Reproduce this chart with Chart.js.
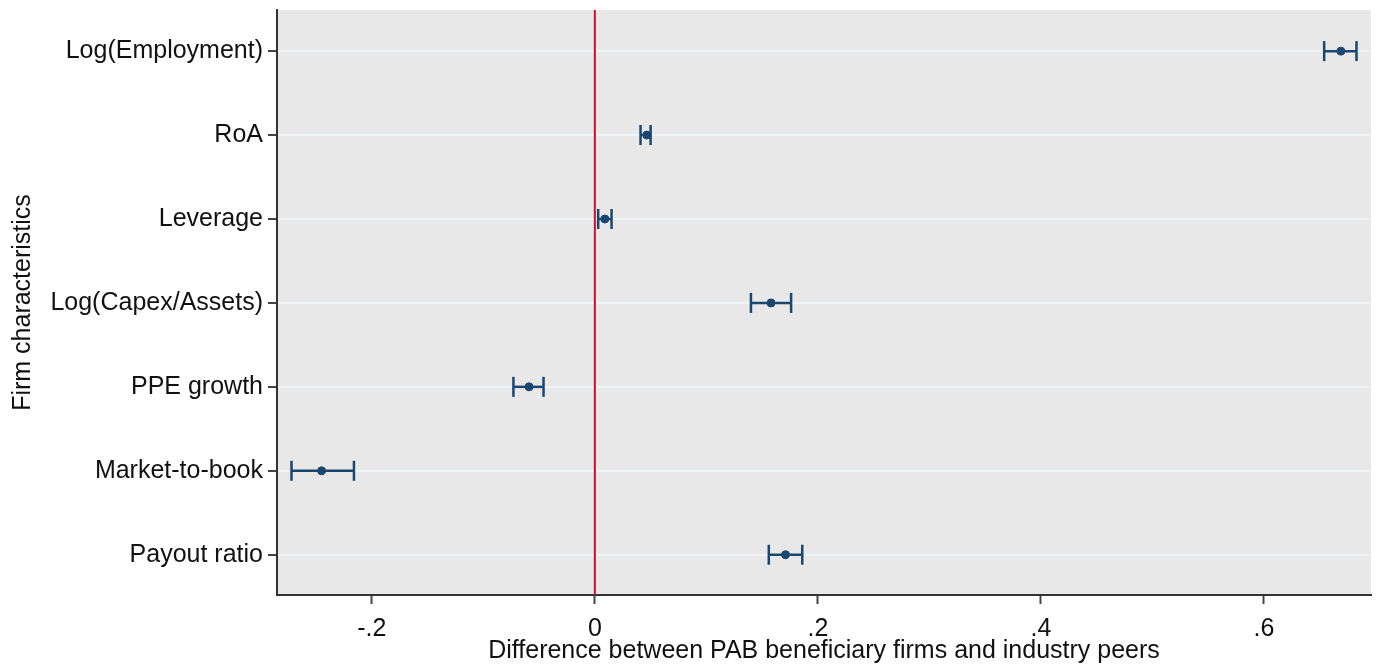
<!DOCTYPE html>
<html>
<head>
<meta charset="utf-8">
<script src="https://cdn.jsdelivr.net/npm/chart.js@4/dist/chart.umd.min.js"></script>
<style>
    html, body { margin: 0; padding: 0; background: #ffffff; }
    #wrap { width: 1379px; height: 666px; }
</style>
</head>
<body>
<div id="wrap"><canvas id="coef-chart"></canvas></div>
<script>
const categories = ['Log(Employment)', 'RoA', 'Leverage', 'Log(Capex/Assets)', 'PPE growth', 'Market-to-book', 'Payout ratio'];
const estimates = [0.669, 0.0466, 0.009, 0.158, -0.059, -0.245, 0.171];
const ciLow = [0.654, 0.041, 0.003, 0.140, -0.073, -0.272, 0.156];
const ciHigh = [0.683, 0.050, 0.015, 0.176, -0.046, -0.216, 0.186];
const xTicks = [-0.2, 0, 0.2, 0.4, 0.6];
const xTickLabels = ['-.2', '0', '.2', '.4', '.6'];

document.addEventListener('DOMContentLoaded', () => {
    const ctx = document.getElementById('coef-chart').getContext('2d');
    const navy = '#1a476f';
    const font = { family: 'Liberation Sans, Arial, sans-serif', size: 25 };

    // one small line dataset per confidence interval, capped with vertical line markers
    const ciSets = categories.map((name, i) => ({
        label: name + ' CI',
        data: [{ x: ciLow[i], y: i + 1 }, { x: ciHigh[i], y: i + 1 }],
        showLine: true,
        borderColor: navy,
        borderWidth: 2.5,
        pointStyle: 'line',
        rotation: 90,
        pointRadius: 10,
        pointBorderWidth: 2.5,
        pointBorderColor: navy,
        pointHoverRadius: 10
    }));

    const plotBackground = {
        id: 'plotBackground',
        beforeDraw(chart) {
            const a = chart.chartArea;
            const c = chart.ctx;
            c.save();
            c.fillStyle = '#e8e8e8';
            c.fillRect(a.left, a.top, a.right - a.left, a.bottom - a.top);
            c.restore();
        }
    };

    new Chart(ctx, {
        type: 'scatter',
        data: {
            datasets: [
                {
                    label: 'zero',
                    data: [{ x: 0, y: 0.51 }, { x: 0, y: 7.48 }],
                    showLine: true,
                    borderColor: '#c8102e',
                    borderWidth: 2,
                    pointRadius: 0
                },
                ...ciSets,
                {
                    label: 'Estimate',
                    data: estimates.map((v, i) => ({ x: v, y: i + 1 })),
                    backgroundColor: navy,
                    borderColor: navy,
                    pointRadius: 4,
                    pointHoverRadius: 4
                }
            ]
        },
        options: {
            responsive: true,
            maintainAspectRatio: false,
            animation: false,
            layout: { autoPadding: false, padding: { top: 10, right: 8, left: 0, bottom: 0 } },
            plugins: {
                legend: { display: false },
                tooltip: { enabled: false }
            },
            scales: {
                x: {
                    type: 'linear',
                    min: -0.285,
                    max: 0.696,
                    afterBuildTicks: scale => { scale.ticks = xTicks.map(v => ({ value: v })); },
                    afterFit: scale => {
                        scale.height = 71;
                        scale.paddingLeft = 0;
                        scale.paddingRight = 0;
                    },
                    ticks: {
                        callback: (v, i) => xTickLabels[i],
                        color: '#111',
                        font: font,
                        padding: 10,
                        maxRotation: 0
                    },
                    grid: { drawOnChartArea: false, tickLength: 9, tickColor: '#444', tickWidth: 2 },
                    border: { color: '#333', width: 2 },
                    title: {
                        display: true,
                        text: 'Difference between PAB beneficiary firms and industry peers',
                        color: '#111',
                        font: font,
                        padding: { top: 0, bottom: 0 }
                    }
                },
                y: {
                    type: 'linear',
                    reverse: true,
                    min: 0.51,
                    max: 7.48,
                    afterBuildTicks: scale => { scale.ticks = categories.map((c, i) => ({ value: i + 1 })); },
                    afterFit: scale => {
                        scale.width = 277;
                        scale.paddingTop = 0;
                        scale.paddingBottom = 0;
                    },
                    ticks: {
                        callback: (v, i) => categories[i],
                        color: '#111',
                        font: font,
                        padding: 5
                    },
                    grid: { color: '#f1f4f7', lineWidth: 2, tickLength: 9, tickColor: '#444', tickWidth: 2 },
                    border: { color: '#333', width: 2 },
                    title: {
                        display: true,
                        text: 'Firm characteristics',
                        color: '#111',
                        font: font,
                        padding: { top: 8, bottom: 0 }
                    }
                }
            }
        },
        plugins: [plotBackground]
    });
});
</script>
</body>
</html>
